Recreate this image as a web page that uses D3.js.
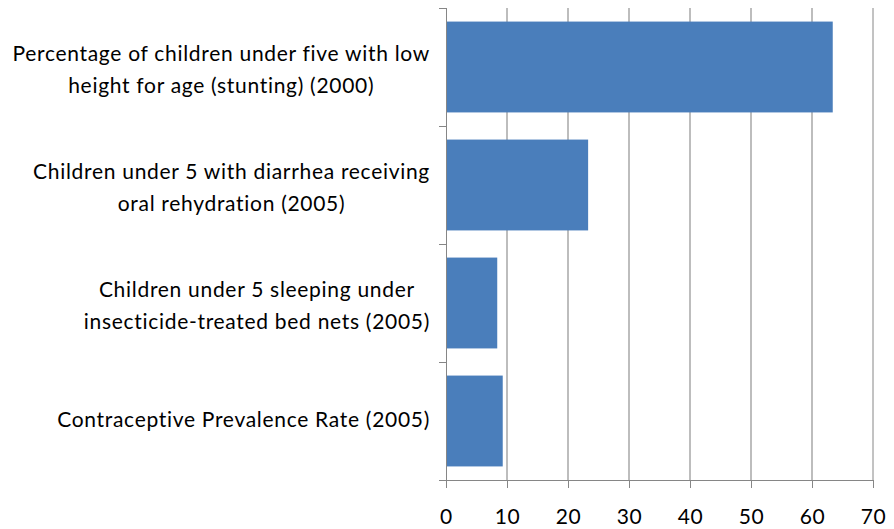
<!DOCTYPE html>
<html><head><meta charset="utf-8">
<script src="https://cdn.jsdelivr.net/npm/d3@7"></script>
<style>
html,body{margin:0;padding:0;background:#fff;}
text{font-family:"Lato","Open Sans",sans-serif;fill:#000;}
</style></head>
<body><svg id="chart" width="894" height="529"></svg>
<script>
const categories = [
  ["Percentage of children under five with low", "height for age (stunting) (2000)"],
  ["Children under 5 with diarrhea receiving", "oral rehydration (2005)"],
  ["Children under 5 sleeping under", "insecticide-treated bed nets (2005)"],
  ["Contraceptive Prevalence Rate (2005)"]
];
const values = [63.4, 23.3, 8.4, 9.3];
const xTicks = [0, 10, 20, 30, 40, 50, 60, 70];

(function () {
const svg = d3.select("#chart");
const pLeft = 446, pRight = 873, pTop = 8, pBottom = 480;
const fs = 21, ls = 0.7;

const x = d3.scaleLinear().domain([0, 70]).range([pLeft, pRight]);
const y = d3.scaleBand().domain(d3.range(categories.length)).range([pTop, pBottom]).paddingInner(0.23).paddingOuter(0.115);
const yb = d3.scaleBand().domain(d3.range(categories.length)).range([pTop, pBottom]);

// gridlines
svg.append("g").selectAll("line").data(xTicks.filter(d => d > 0)).join("line")
  .attr("x1", d => x(d)).attr("x2", d => x(d))
  .attr("y1", pTop).attr("y2", pBottom)
  .attr("stroke", d => d === 70 ? "#868686" : "#bdbdbd")
  .attr("stroke-width", d => d === 70 ? 1 : 2);

// bars
svg.append("g").selectAll("rect").data(values).join("rect")
  .attr("x", x(0)).attr("y", (d, i) => y(i))
  .attr("width", d => x(d) - x(0)).attr("height", y.bandwidth())
  .attr("fill", "#4a7ebb");

// x axis
const xAxis = svg.append("g").attr("transform", `translate(0,${pBottom})`)
  .call(d3.axisBottom(x).tickValues(xTicks).tickSize(8).tickPadding(21));
xAxis.select(".domain").attr("d", `M${pLeft - 7},0.5H${pRight}`).attr("stroke", "#868686");
xAxis.selectAll(".tick line").attr("stroke", "#868686");
xAxis.selectAll(".tick text").attr("font-size", fs).attr("letter-spacing", ls + "px")
  .attr("font-family", "Lato, 'Open Sans', sans-serif").attr("fill", "#000");

// y axis line and category boundary ticks
svg.append("line").attr("x1", pLeft + 0.5).attr("x2", pLeft + 0.5).attr("y1", pTop).attr("y2", pBottom)
  .attr("stroke", "#868686");
const bounds = d3.range(categories.length + 1).map(i => i < categories.length ? yb(i) : pBottom);
svg.append("g").selectAll("line").data(bounds).join("line")
  .attr("x1", pLeft - 7).attr("x2", pLeft).attr("y1", d => d + 0.5).attr("y2", d => d + 0.5)
  .attr("stroke", "#868686");

// category labels
const lineH = 32;
const labelRight = 430;
categories.forEach((lines, i) => {
  const g = svg.append("g");
  const cy = yb(i) + yb.bandwidth() / 2;
  const off = lines.length > 1 ? 10 : 6;
  const texts = lines.map((t, j) => g.append("text")
    .attr("font-size", fs)
    .attr("letter-spacing", ls + "px")
    .attr("text-anchor", "middle")
    .attr("y", cy + (j - (lines.length - 1) / 2) * lineH + off)
    .text(t));
  const w = d3.max(texts, t => t.node().getComputedTextLength());
  texts.forEach(t => t.attr("x", labelRight - w / 2));
});
})();
</script></body></html>
